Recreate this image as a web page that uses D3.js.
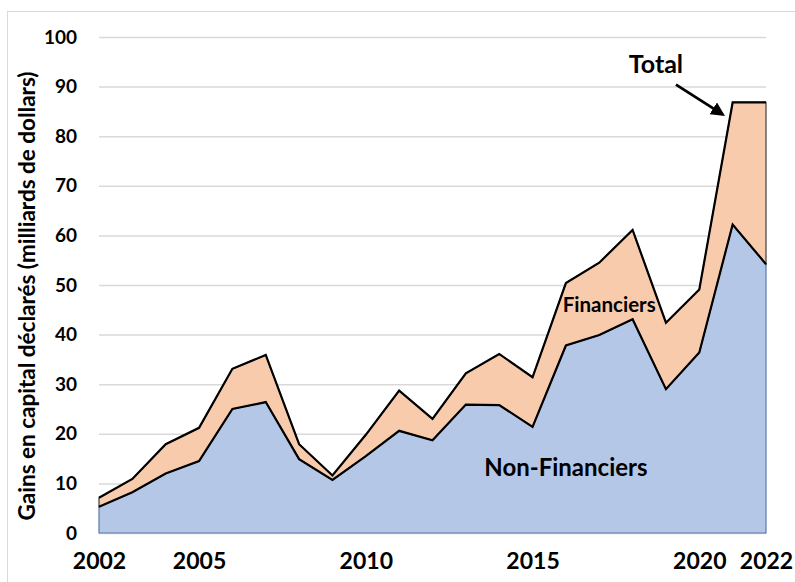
<!DOCTYPE html>
<html>
<head>
<meta charset="utf-8">
<script src="https://cdn.jsdelivr.net/npm/d3@7"></script>
<style>
  body { margin: 0; background: #fff; }
  svg { display: block; font-family: Lato, "Open Sans", sans-serif; font-weight: bold; }
</style>
</head>
<body>
<div id="chart"></div>
<script>
// data (milliards de dollars)
var years = [2002, 2003, 2004, 2005, 2006, 2007, 2008, 2009, 2010, 2011, 2012,
             2013, 2014, 2015, 2016, 2017, 2018, 2019, 2020, 2021, 2022]
var nonFinanciers = [5.3, 8.2, 12.0, 14.5, 25.0, 26.4, 14.9, 10.7, 15.5, 20.6, 18.7,
                     25.9, 25.8, 21.4, 37.8, 39.9, 43.1, 29.0, 36.4, 62.2, 54.2]
var financiers = [1.8, 2.7, 5.9, 6.7, 8.1, 9.5, 3.0, 0.9, 4.3, 8.1, 4.3,
                  6.3, 10.3, 10.0, 12.6, 14.6, 18.0, 13.4, 12.7, 24.6, 32.6]
var xTicks = [2002, 2005, 2010, 2015, 2020, 2022]
var yTicks = [0, 10, 20, 30, 40, 50, 60, 70, 80, 90, 100]

let svg_width = 795
let svg_height = 582

var margin = { top: 37, right: 29, bottom: 49, left: 99 },
    width = svg_width - margin.left - margin.right,
    height = svg_height - margin.top - margin.bottom;

var root = d3.select("#chart")
    .append("svg")
    .attr("width", svg_width)
    .attr("height", svg_height)

// outer chart frame
root.append("rect")
    .attr("x", 7.5).attr("y", 11.5)
    .attr("width", svg_width).attr("height", svg_height)
    .style("fill", "none")
    .style("stroke", "#d9d9d9")

var svg = root.append("g")
    .attr("transform", "translate(" + margin.left + "," + margin.top + ")");

var rows = years.map((y, i) => ({ year: y, non: nonFinanciers[i], fin: financiers[i] }))
var series = d3.stack().keys(["non", "fin"])(rows)

var xScale = d3.scaleLinear()
    .domain([2002, 2022])
    .range([0, width]);

var yScale = d3.scaleLinear()
    .domain([0, 100])
    .range([height, 0]);

// gridlines + y labels
var yAxis = svg.append("g")
    .call(d3.axisLeft(yScale).tickValues(yTicks).tickSize(-width).tickPadding(22))
yAxis.select(".domain").remove()
yAxis.selectAll("line").style("stroke", "#d9d9d9").style("stroke-width", "1.5px")
yAxis.selectAll("text")
    .style("font-size", "19px")
    .style("font-family", "Lato, sans-serif")
    .style("font-weight", "bold")
    .attr("fill", "#000")

var xAxis = svg.append("g")
    .attr("transform", "translate(0," + height + ")")
    .call(d3.axisBottom(xScale).tickValues(xTicks).tickSize(0).tickPadding(20).tickFormat(d3.format("d")))
xAxis.select(".domain").remove()
xAxis.selectAll("text")
    .style("font-size", "23px")
    .style("font-family", "Lato, sans-serif")
    .style("font-weight", "bold")
    .attr("fill", "#000")

var area = d3.area()
    .x(d => xScale(d.data.year))
    .y0(d => yScale(d[0]))
    .y1(d => yScale(d[1]))

var colors = { non: "#b4c7e7", fin: "#f8cbad" }
var edges = { non: "#5a78a8", fin: "#404040" }

svg.append("g").selectAll("path").data(series)
    .enter().append("path")
    .attr("d", area)
    .style("fill", d => colors[d.key])
    .style("stroke", d => edges[d.key])
    .style("stroke-width", "1.2px")

// black top edges of each layer
var topLine = d3.line()
    .x(d => xScale(d.data.year))
    .y(d => yScale(d[1]))

svg.append("g").selectAll("path").data(series)
    .enter().append("path")
    .attr("d", topLine)
    .style("fill", "none")
    .style("stroke", "#000")
    .style("stroke-width", "2.2px")
    .style("stroke-linejoin", "miter")

// labels
svg.append("text")
    .attr("x", xScale(2016)).attr("y", yScale(12.7))
    .attr("text-anchor", "middle").attr("dominant-baseline", "middle")
    .style("font-size", "24px")
    .text("Non-Financiers")

svg.append("text")
    .attr("x", xScale(2017.3)).attr("y", yScale(45.6))
    .attr("text-anchor", "middle").attr("dominant-baseline", "middle")
    .style("font-size", "20.5px")
    .text("Financiers")

svg.append("text")
    .attr("x", xScale(2018.7)).attr("y", yScale(94))
    .attr("text-anchor", "middle").attr("dominant-baseline", "middle")
    .style("font-size", "25px")
    .text("Total")

svg.append("defs").append("marker")
    .attr("id", "arrow")
    .attr("viewBox", "0 0 10 10")
    .attr("refX", 8).attr("refY", 5)
    .attr("markerWidth", 5).attr("markerHeight", 5)
    .attr("orient", "auto")
    .append("path")
    .attr("d", "M0,0 L10,5 L0,10 z")
    .style("fill", "#000")

svg.append("line")
    .attr("x1", xScale(2019.3)).attr("y1", yScale(90.4))
    .attr("x2", xScale(2020.7)).attr("y2", yScale(84.4))
    .style("stroke", "#000")
    .style("stroke-width", "2.8px")
    .attr("marker-end", "url(#arrow)")

// y title
svg.append("text")
    .attr("transform", "rotate(-90)")
    .attr("x", -259)
    .attr("y", -70)
    .attr("text-anchor", "middle")
    .attr("dominant-baseline", "middle")
    .style("font-size", "22.5px")
    .text("Gains en capital déclarés (milliards de dollars)")
</script>
</body>
</html>
